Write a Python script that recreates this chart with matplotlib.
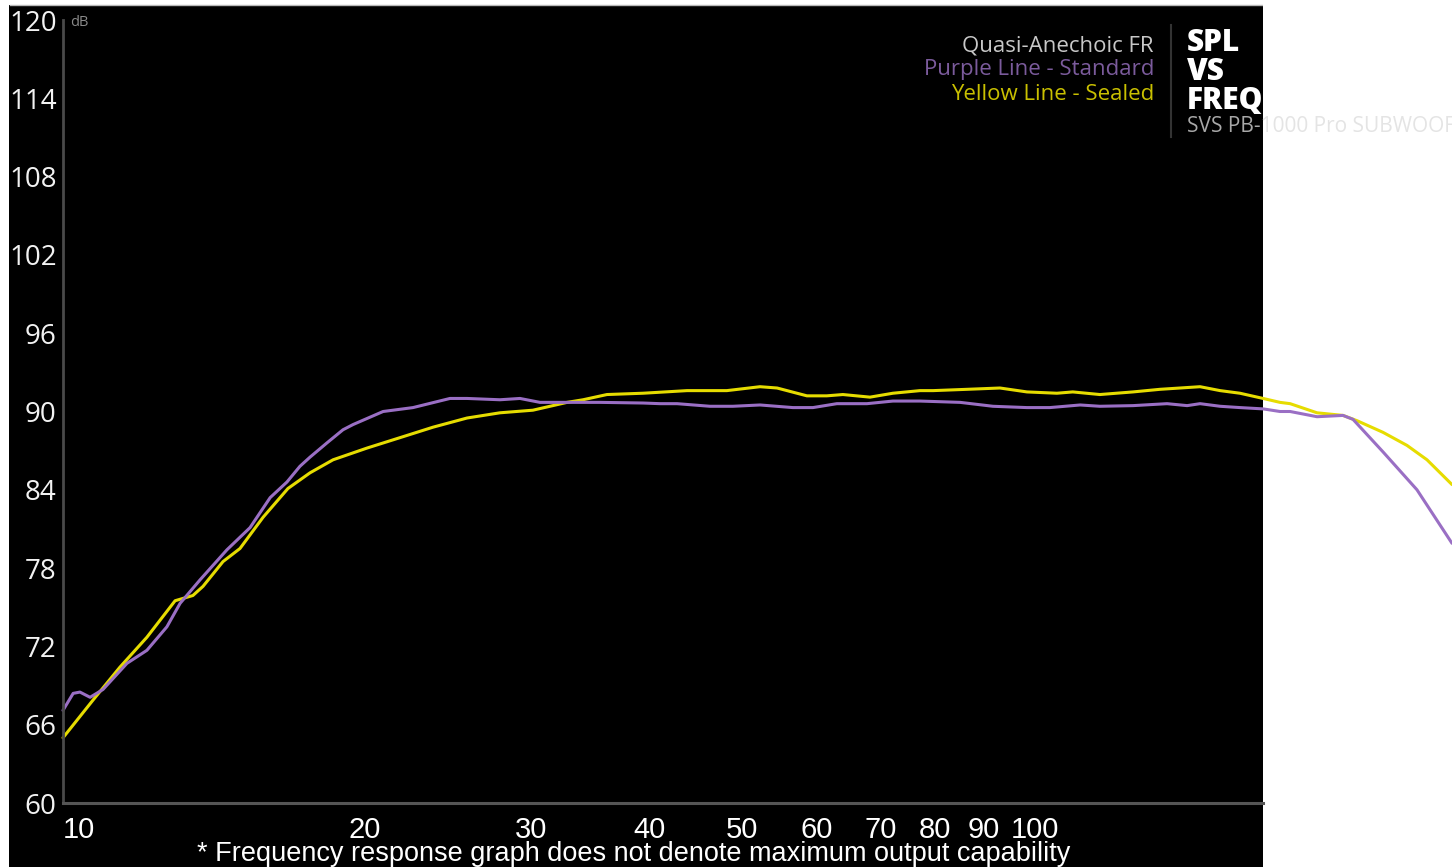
import matplotlib
matplotlib.use("Agg")
import matplotlib.pyplot as plt
from matplotlib.patches import Rectangle
from matplotlib.ticker import NullLocator
from matplotlib.transforms import Bbox, TransformedBbox

# frequency response (Hz, dB)
sealed_hz = [10.0, 10.76, 11.48, 12.26, 13.13, 13.71, 14.05, 14.75, 15.37, 16.26, 17.27, 18.22,
             19.27, 20.93, 22.68, 24.57, 26.68, 28.9, 31.31, 34.02, 35.37, 37.48, 40.91, 45.53,
             50.15, 54.36, 56.66, 60.92, 63.93, 66.48, 71.0, 75.07, 80.18, 82.77, 89.88, 97.36,
             103.96, 111.8, 116.2, 124.1, 134.5, 143.6, 158.3, 166.2, 174.4, 184.5, 192.2, 197.0,
             210.3, 224.0, 231.7, 246.9, 261.7, 274.7, 291.9]
sealed_db = [65.0, 67.9, 70.4, 72.7, 75.5, 75.9, 76.6, 78.5, 79.5, 81.9, 84.1, 85.3,
             86.3, 87.2, 88.0, 88.8, 89.5, 89.9, 90.1, 90.7, 90.9, 91.3, 91.4, 91.6,
             91.6, 91.9, 91.8, 91.2, 91.2, 91.3, 91.1, 91.4, 91.6, 91.6, 91.7, 91.8,
             91.5, 91.4, 91.5, 91.3, 91.5, 91.7, 91.9, 91.6, 91.4, 91.0, 90.7, 90.6,
             89.9, 89.7, 89.3, 88.4, 87.4, 86.3, 84.4]

standard_hz = [10.0, 10.25, 10.42, 10.68, 11.02, 11.68, 12.26, 12.87, 13.29, 13.95, 14.89, 15.75,
               16.54, 17.23, 17.78, 18.22, 18.99, 19.74, 20.23, 21.76, 23.4, 25.6, 26.68, 28.9,
               30.34, 31.85, 34.02, 36.86, 40.91, 42.64, 44.44, 48.14, 50.89, 54.36, 58.88, 61.82,
               65.51, 70.48, 75.07, 80.18, 88.38, 95.72, 103.96, 109.9, 118.3, 124.1, 134.5, 146.1,
               153.4, 158.3, 166.2, 174.4, 184.5, 192.2, 197.0, 210.3, 224.0, 229.5, 246.9, 268.1,
               291.9]
standard_db = [67.1, 68.4, 68.5, 68.1, 68.7, 70.7, 71.7, 73.5, 75.3, 77.1, 79.4, 81.1,
               83.4, 84.6, 85.8, 86.5, 87.6, 88.6, 89.0, 90.0, 90.3, 91.0, 91.0, 90.9,
               91.0, 90.7, 90.7, 90.7, 90.65, 90.6, 90.6, 90.4, 90.4, 90.5, 90.3, 90.3,
               90.6, 90.6, 90.8, 90.8, 90.7, 90.4, 90.3, 90.3, 90.5, 90.4, 90.45, 90.6,
               90.45, 90.6, 90.4, 90.3, 90.2, 90.0, 90.0, 89.6, 89.7, 89.4, 86.9, 84.0,
               79.9]

x_ticks = [10, 20, 30, 40, 50, 60, 70, 80, 90, 100]
x_labels = ["10", "20", "30", "40", "50", "60", "70", "80", "90", "100"]
y_ticks = [60, 66, 72, 78, 84, 90, 96, 102, 108, 114, 120]

W, H = 1452, 867
fig = plt.figure(figsize=(W / 100, H / 100), dpi=100, facecolor="white")


def fbox(x0, y0, x1, y1):
    # pixel box (top-left origin) -> figure fraction rect
    return (x0 / W, 1 - y1 / H, (x1 - x0) / W, (y1 - y0) / H)


def prect(x0, y0, x1, y1, color, z):
    l, b, w, h = fbox(x0, y0, x1, y1)
    r = Rectangle((l, b), w, h, transform=fig.transFigure, facecolor=color,
                  edgecolor="none", zorder=z)
    fig.patches.append(r)
    return r


def clipbox(x0, y0, x1, y1):
    l, b, w, h = fbox(x0, y0, x1, y1)
    return TransformedBbox(Bbox([[l, b], [l + w, b + h]]), fig.transFigure)


prect(9, 5, 1263, 867, "black", 0)
fig.add_artist(plt.Line2D([10 / W, 1263 / W], [1 - 5 / H, 1 - 5 / H], color="#b8b8b8",
                          lw=1, transform=fig.transFigure, zorder=0.5))

# title block (covered by the white strip on the right)
for txt, col, y in [("Quasi-Anechoic FR", "#c8c8c8", 46),
                    ("Purple Line - Standard", "#7b5b9c", 70),
                    ("Yellow Line - Sealed", "#c9c000", 95)]:
    fig.text(1154 / W, 1 - y / H, txt, color=col, ha="right", va="center",
             fontsize=16, family="Open Sans", zorder=1)
fig.add_artist(plt.Line2D([1171 / W, 1171 / W], [1 - 25 / H, 1 - 137 / H], color="#333333",
                          lw=1.5, transform=fig.transFigure, zorder=1))
fig.text(1187 / W, 1 - 28 / H, "SPL\nVS\nFREQ", color="white", ha="left", va="top",
         fontsize=21.5, fontweight="heavy", family="Open Sans", linespacing=0.95, zorder=1)
fig.text(1187 / W, 1 - 126 / H, "SVS PB-1000 Pro SUBWOOFER", color="#a8a8a8", ha="left",
         va="center", fontsize=15, family="Open Sans", zorder=1)

prect(1263, 0, W, H, "white", 2)
t = fig.text(1187 / W, 1 - 126 / H, "SVS PB-1000 Pro SUBWOOFER", color="#e4e4e4", ha="left",
             va="center", fontsize=15, family="Open Sans", zorder=2.5)
t.set_clip_box(clipbox(1263, 0, W, H))
t.set_clip_on(True)

ax = fig.add_axes(fbox(63, 20, W, 803), zorder=3)
ax.set_facecolor("none")
ax.plot(sealed_hz, sealed_db, color="#e6dc00", lw=2.2, solid_capstyle="round",
        solid_joinstyle="round", clip_on=False)
ax.plot(standard_hz, standard_db, color="#9a6fc4", lw=2.2, solid_capstyle="round",
        solid_joinstyle="round", clip_on=False)

ax.set_xscale("log")
ax.set_xlim(10, 291.9)
ax.set_ylim(60, 120)
ax.xaxis.set_minor_locator(NullLocator())
ax.set_xticks(x_ticks)
ax.set_xticklabels(x_labels, color="white", fontsize=21, family="Liberation Sans")
for lbl in ax.get_xticklabels():
    lbl.set_ha("left")
ax.set_yticks(y_ticks)
ax.set_yticklabels([str(v) for v in y_ticks], color="#f2f2f2", fontsize=20, family="Open Sans")
ax.tick_params(axis="x", length=0, pad=9)
ax.tick_params(axis="y", length=0, pad=4.5)
for s in ["top", "right"]:
    ax.spines[s].set_visible(False)
ax.spines["left"].set_color("#4a4a4a")
ax.spines["left"].set_linewidth(2)
ax.spines["bottom"].set_color("#555555")
ax.spines["bottom"].set_linewidth(2.2)
ax.spines["bottom"].set_bounds(10, 184.5)
ax.text(0.005, 0.997, "dB", transform=ax.transAxes, color="#8a8a8a", fontsize=10.5,
        family="Open Sans", ha="left", va="center")

# footnote band hides the lower part of the x labels
prect(9, 839, 1263, 867, "black", 4)
fig.text(634 / W, 1 - 854 / H, "* Frequency response graph does not denote maximum output capability",
         color="white", ha="center", va="center", fontsize=19.5,
         family="Liberation Sans", zorder=5)

fig.savefig("out.png", dpi=100, facecolor="white")
